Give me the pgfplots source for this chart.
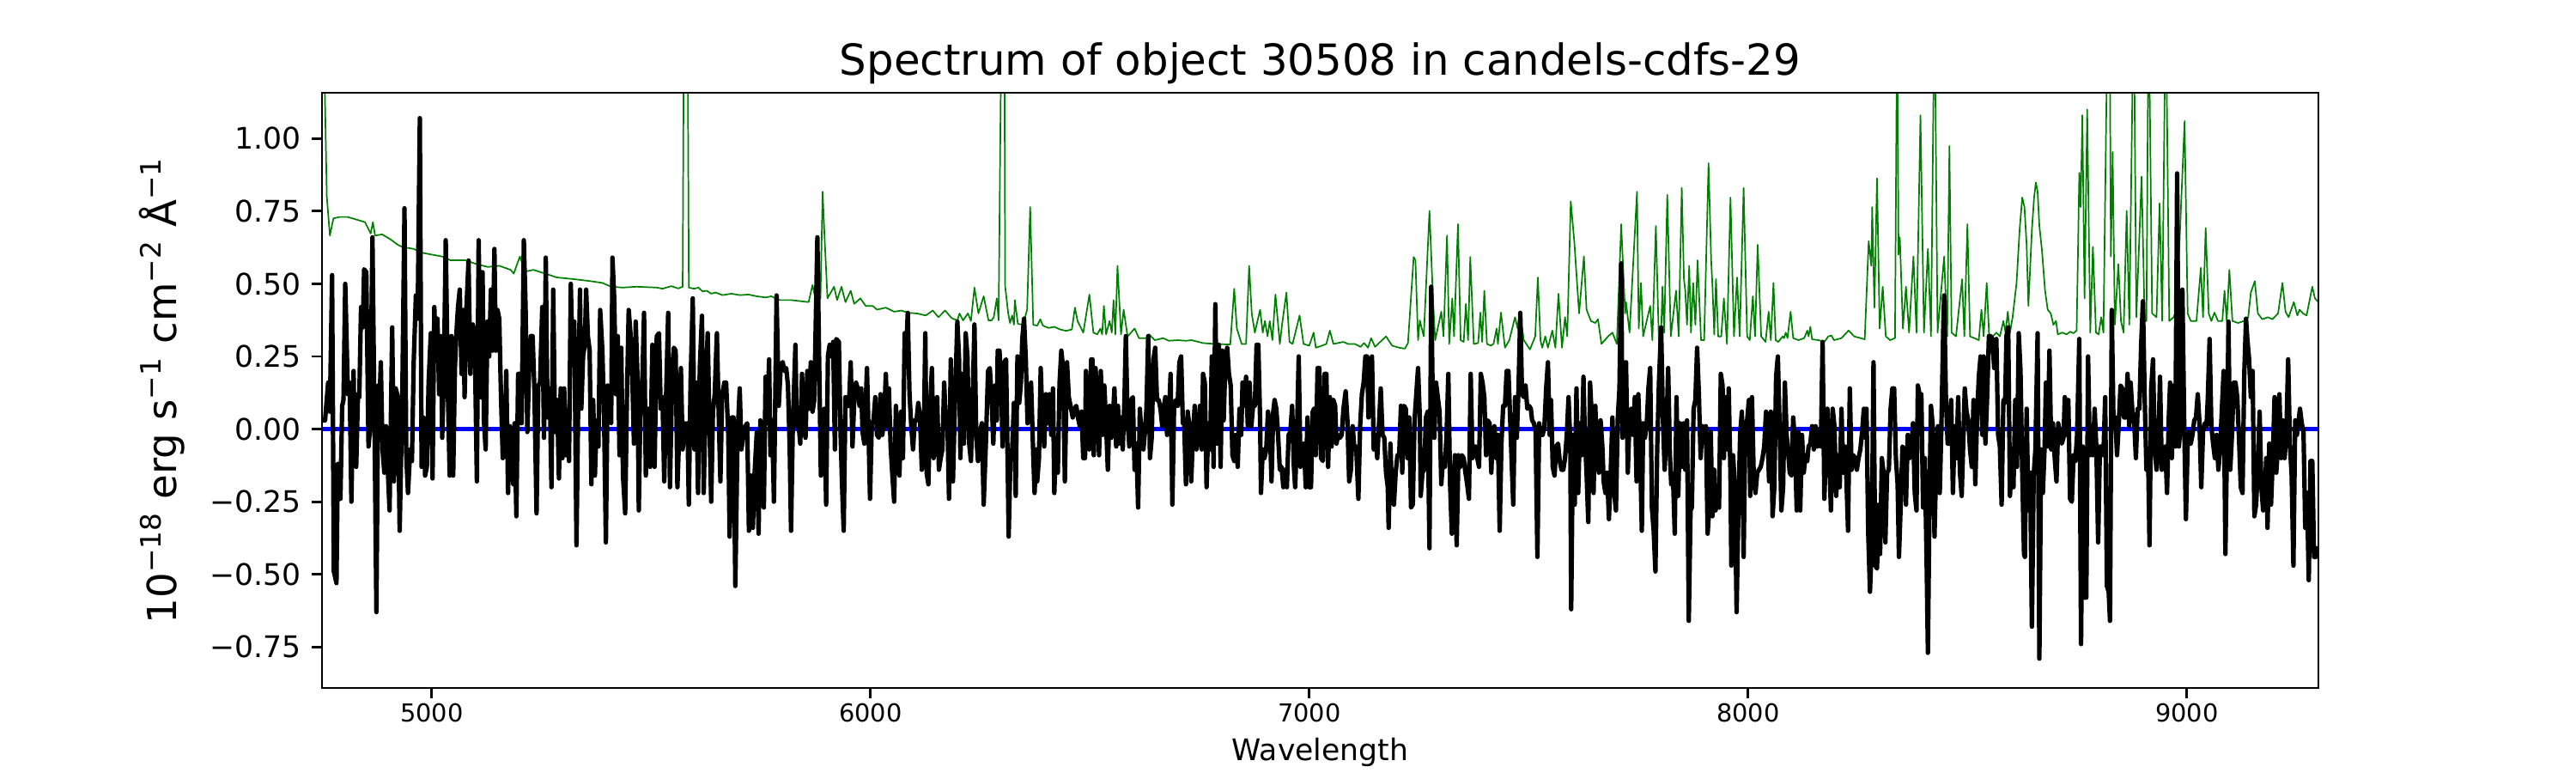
\documentclass[border=0pt]{standalone}
\usepackage{pgfplots}
\pgfplotsset{compat=1.18}
\usepackage{fontspec}
\setmainfont{DejaVu Sans}
\definecolor{mplgreen}{RGB}{0,128,0}
\definecolor{mplblue}{RGB}{0,0,255}
\begin{document}
\begin{tikzpicture}
\path[use as bounding box] (-1.5in,-0.396in) rectangle (10.5in,3.204in);
\begin{axis}[
  at={(0,0)}, anchor=south west,
  scale only axis, width=9.3in, height=2.772in,
  xmin=4750, xmax=9300, ymin=-0.891, ymax=1.1575,
  axis on top,
  axis line style={line width=0.8pt},
  tick align=outside, tick pos=left,
  major tick length=3.5pt,
  every tick/.style={black, line width=0.8pt},
  xtick={5000,6000,7000,8000,9000},
  xticklabels={5000,6000,7000,8000,9000},
  ytick={-0.75,-0.5,-0.25,0,0.25,0.5,0.75,1},
  yticklabels={−0.75,−0.50,−0.25,0.00,0.25,0.50,0.75,1.00},
  xticklabel style={font=\fontsize{8.33}{10}\selectfont, inner sep=1.5pt},
  yticklabel style={font=\fontsize{10}{12}\selectfont},
  title={Spectrum of object 30508 in candels-cdfs-29},
  title style={font=\fontsize{14.4}{17}\selectfont, at={(axis description cs:0.5,1)}, anchor=base},
  xlabel={Wavelength},
  xlabel style={font=\fontsize{10}{12}\selectfont, at={(axis description cs:0.5,-0.108)}, anchor=center},
  ylabel={10\textsuperscript{−18} erg s\textsuperscript{−1} cm\textsuperscript{−2} Å\textsuperscript{−1}},
  ylabel style={font=\fontsize{13.5}{16}\selectfont, at={(axis description cs:-0.0803,0.5)}, anchor=center},
]
% model (zero)
\addplot[mplblue, line width=1.5pt] coordinates {(4750,0) (9300,0)};
% noise spectrum
\addplot[mplgreen, line width=0.5pt, line join=round] coordinates {
(4750,1.5) (4756,1.2) (4761,0.80) (4768,0.666) (4776,0.725) (4790,0.73) (4808,0.73) (4820,0.725) (4848,0.712) (4861,0.673) (4866,0.712) (4871,0.666) (4887,0.67) (4906,0.653) (4923,0.634) (4933,0.627) (4959,0.62) (4978,0.607) (4998,0.601) (5024,0.594) (5043,0.581) (5076,0.581) (5102,0.568) (5128,0.558) (5154,0.562) (5180,0.548) (5187,0.535) (5201,0.594) (5213,0.542) (5232,0.548) (5259,0.535) (5285,0.522) (5324,0.516) (5363,0.509) (5389,0.503) (5409,0.49) (5435,0.487) (5467,0.49)
(5513,0.487) (5526,0.483) (5546,0.492) (5562,0.484) (5572,0.49) (5575,1.5) (5583,1.5) (5586,0.487) (5598,0.483) (5608,0.487) (5617,0.474) (5627,0.476) (5637,0.466) (5647,0.47) (5663,0.461) (5683,0.466) (5702,0.461) (5722,0.463) (5741,0.457) (5761,0.453) (5774,0.457) (5793,0.444) (5819,0.444) (5859,0.437) (5868,0.496) (5875,0.444) (5886,0.45) (5891,0.817) (5895,0.673) (5902,0.45) (5917,0.49) (5924,0.444) (5934,0.49) (5943,0.437) (5955,0.476) (5963,0.431) (5977,0.45) (5989,0.424) (6005,0.424) (6015,0.411) (6035,0.418) (6054,0.404) (6070,0.408) (6087,0.40) (6106,0.398) (6126,0.391) (6142,0.408) (6155,0.385) (6170,0.408) (6185,0.382) (6198,0.374) (6203,0.398) (6211,0.374) (6222,0.398) (6229,0.372) (6237,0.487) (6246,0.398) (6258,0.457) (6269,0.374)
(6276,0.374) (6281,0.385) (6288,0.45) (6292,0.374) (6299,1.5) (6305,1.5) (6307,0.49) (6314,0.398) (6318,0.365) (6323,0.391) (6327,0.359) (6329,0.444) (6336,0.362) (6348,0.359) (6357,0.411) (6364,0.764) (6371,0.359) (6380,0.356) (6387,0.378) (6393,0.356) (6406,0.348) (6419,0.352) (6432,0.343) (6446,0.338) (6459,0.343) (6466,0.418) (6472,0.372) (6485,0.332) (6499,0.463) (6508,0.332) (6517,0.326) (6524,0.346) (6528,0.326) (6532,0.424) (6537,0.326) (6545,0.372) (6550,0.332) (6554,0.444) (6558,0.326) (6563,0.562) (6571,0.326) (6577,0.411) (6586,0.319) (6602,0.346) (6612,0.313) (6628,0.313) (6635,0.326) (6648,0.306) (6667,0.313) (6680,0.304) (6700,0.306) (6719,0.304) (6732,0.306) (6758,0.296) (6785,0.293) (6820,0.291) (6829,0.483) (6835,0.346) (6846,0.293) (6856,0.293) (6863,0.562) (6869,0.398) (6876,0.332) (6888,0.411) (6894,0.332) (6899,0.372) (6905,0.319) (6910,0.372) (6916,0.306) (6923,0.463) (6933,0.293) (6938,0.359) (6948,0.470) (6955,0.300) (6962,0.293) (6978,0.391) (6987,0.293) (7000,0.287) (7010,0.332) (7015,0.280) (7029,0.287)
(7039,0.293) (7047,0.339) (7055,0.293) (7065,0.296) (7078,0.30) (7088,0.293) (7104,0.293) (7117,0.283) (7125,0.296) (7134,0.280) (7141,0.313) (7150,0.283) (7175,0.319) (7189,0.287) (7205,0.280) (7218,0.277) (7225,0.296) (7238,0.592) (7242,0.581) (7248,0.306) (7252,0.374) (7261,0.319) (7274,0.751) (7282,0.45) (7287,0.306) (7301,0.404) (7306,0.319) (7314,0.666) (7319,0.293) (7326,0.45) (7330,0.319) (7339,0.705) (7345,0.306) (7352,0.30) (7357,0.431) (7362,0.306) (7367,0.592) (7375,0.293) (7385,0.296) (7390,0.401) (7394,0.30) (7399,0.476) (7405,0.293) (7414,0.287) (7420,0.293) (7427,0.346) (7430,0.293) (7437,0.401) (7446,0.280) (7456,0.306) (7469,0.385) (7475,0.346) (7480,0.404) (7489,0.306) (7503,0.274) (7515,0.319) (7521,0.522) (7527,0.306) (7531,0.280) (7538,0.319) (7544,0.280) (7554,0.339) (7561,0.280) (7568,0.466) (7576,0.280) (7583,0.385) (7588,0.319) (7596,0.784) (7604,0.647) (7615,0.398) (7626,0.594) (7632,0.411) (7642,0.372) (7652,0.365) (7658,0.378) (7666,0.293) (7681,0.319) (7691,0.332) (7701,0.293) (7711,0.705) (7720,0.398) (7722,0.437) (7730,0.332) (7747,0.817) (7751,0.346) (7756,0.503) (7761,0.319) (7777,0.424) (7782,0.306) (7790,0.699) (7797,0.293)
(7802,0.332) (7805,0.49) (7809,0.332) (7816,0.806) (7824,0.319) (7836,0.476) (7842,0.319) (7849,0.83) (7854,0.516) (7857,0.476) (7861,0.359) (7866,0.562) (7870,0.332) (7875,0.503) (7880,0.359) (7885,0.581) (7893,0.306) (7900,0.306) (7910,0.915) (7916,0.581) (7919,0.490) (7923,0.326) (7927,0.516) (7932,0.319) (7939,0.319) (7945,0.450) (7952,0.293) (7960,0.797) (7968,0.319) (7975,0.522) (7981,0.319) (7990,0.83) (7998,0.319) (8004,0.306) (8011,0.457) (8016,0.319) (8022,0.634) (8030,0.319) (8040,0.300) (8047,0.404) (8052,0.306) (8058,0.503) (8063,0.306) (8069,0.30) (8079,0.319) (8082,0.313) (8086,0.332) (8090,0.313) (8097,0.404) (8103,0.313) (8115,0.306) (8128,0.313) (8135,0.339) (8138,0.319) (8142,0.352) (8146,0.309) (8161,0.306) (8174,0.30) (8183,0.319) (8190,0.322) (8196,0.306) (8213,0.313) (8229,0.339) (8242,0.319) (8266,0.309) (8275,0.647) (8281,0.562) (8283,0.764) (8288,0.418) (8294,0.863) (8300,0.346) (8307,0.49) (8314,0.319) (8324,0.306) (8335,0.313) (8340,1.5) (8343,0.6) (8346,0.66) (8353,0.346) (8360,0.49) (8367,0.332) (8377,0.594) (8384,0.332) (8393,1.08) (8401,0.332) (8410,0.62) (8417,0.319) (8425,1.5) (8432,0.332) (8447,0.594) (8454,0.319) (8459,0.974) (8464,0.332) (8474,0.319) (8488,0.516) (8493,0.319) (8500,0.705) (8506,0.319) (8516,0.313) (8526,0.306) (8532,0.411) (8537,0.319) (8544,0.503) (8550,0.306)
(8566,0.332) (8574,0.319) (8582,0.372) (8587,0.332) (8592,0.404) (8597,0.332) (8603,0.385) (8612,0.503) (8619,0.686) (8625,0.797) (8630,0.764) (8635,0.634) (8639,0.424) (8643,0.555) (8647,0.686) (8652,0.797) (8656,0.849) (8660,0.817) (8664,0.699) (8670,0.614) (8677,0.476) (8683,0.411) (8690,0.398) (8696,0.359) (8702,0.372) (8706,0.326) (8716,0.332) (8726,0.326) (8734,0.335) (8742,0.330) (8749,0.339) (8755,0.882) (8758,0.764) (8762,1.08) (8767,0.45) (8773,1.10) (8780,0.332) (8786,0.627) (8793,0.332) (8799,0.326) (8805,0.385) (8810,0.332) (8820,1.5) (8824,1.5) (8827,0.594) (8831,0.954) (8836,0.359) (8844,0.568) (8850,0.372) (8856,0.332) (8863,0.751) (8869,0.359) (8879,1.5) (8885,0.385) (8897,0.869) (8904,0.372) (8908,0.372) (8913,1.5) (8921,0.398) (8931,0.385) (8938,0.777) (8944,0.372) (8952,1.5) (8960,0.372) (8970,0.385) (8977,0.411) (8995,1.06) (9002,0.398) (9009,0.372) (9022,0.372) (9032,0.555) (9037,0.385) (9043,0.692) (9050,0.398) (9056,0.372) (9063,0.401) (9071,0.372) (9081,0.372) (9086,0.476) (9091,0.372) (9097,0.548) (9104,0.372) (9117,0.365) (9130,0.372) (9140,0.385) (9146,0.470) (9155,0.509) (9162,0.398) (9172,0.378) (9185,0.385) (9195,0.378) (9208,0.398) (9218,0.503) (9225,0.404) (9232,0.385) (9244,0.437) (9252,0.391) (9257,0.411) (9265,0.398) (9273,0.391) (9286,0.49) (9292,0.45) (9300,0.437)
};
% flux
\addplot[black, line width=1.5pt, line join=round] coordinates {
(4750,0.03) (4757,0.03) (4764,0.16) (4768,0.06) (4773,0.53) (4777,-0.49) (4783,-0.53) (4786,-0.12) (4789,-0.12) (4792,-0.24) (4796,0.08) (4799,0.10) (4803,0.50) (4809,0.12) (4813,0.16) (4817,-0.25) (4822,0.20) (4825,-0.10) (4828,-0.13) (4832,0.12) (4835,0.11) (4839,0.42) (4843,0.35) (4846,0.55) (4851,0.54) (4856,-0.06) (4860,0.01) (4865,0.66) (4870,-0.02) (4874,-0.63) (4878,0.15) (4880,0.04) (4884,0.23) (4888,-0.07) (4892,-0.15) (4896,0.01) (4900,-0.14) (4904,-0.28) (4910,0.35) (4914,-0.18) (4918,0.14) (4923,0.11) (4927,-0.35) (4933,0.11) (4938,0.76) (4942,-0.09) (4946,-0.22) (4951,-0.07) (4955,-0.11) (4959,0.23) (4964,0.46) (4968,0.38) (4973,1.07) (4977,-0.13) (4981,0.04) (4985,-0.16) (4989,-0.13) (4993,0.16) (4998,0.33) (5002,-0.17) (5006,0.42) (5009,0.29) (5013,0.38) (5017,0.12) (5021,0.32) (5024,-0.03) (5028,0.21) (5032,0.65) (5037,0.12) (5041,-0.16) (5045,0.32) (5049,-0.16) (5053,0.21) (5056,0.32) (5060,0.42) (5064,0.48) (5068,0.19) (5072,0.41) (5075,0.11) (5079,0.41) (5084,0.58) (5088,0.19) (5090,0.29) (5094,0.36) (5098,0.32) (5103,-0.18) (5107,0.65) (5112,0.11) (5116,0.54) (5119,0.03) (5123,-0.07) (5127,0.37) (5131,0.25) (5135,0.48) (5139,0.27) (5143,0.62) (5146,0.27) (5150,0.41) (5154,0.38) (5158,0.11) (5162,-0.10) (5166,-0.06) (5170,0.20) (5174,-0.22) (5178,0.01) (5182,-0.10) (5186,-0.19) (5189,0.02) (5193,-0.30) (5197,0.19) (5201,0.19) (5205,0.02) (5210,0.65) (5214,0.42) (5218,-0.01) (5222,0.20) (5226,0.32) (5230,0.32) (5234,0.14) (5239,-0.29) (5243,0.15) (5247,0.16) (5252,0.42) (5256,-0.03) (5260,0.59) (5264,0.04) (5269,0.14) (5273,-0.20) (5277,0.48) (5281,-0.01) (5286,0.10) (5290,-0.17) (5294,0.14) (5298,-0.10) (5302,0.14) (5306,-0.09) (5309,0.06) (5313,-0.11) (5317,0.50) (5321,0.25) (5325,0.37) (5330,-0.40) (5334,0.10) (5338,0.48) (5341,0.07) (5345,0.25) (5349,0.29) (5352,0.48) (5356,0.32) (5360,0.27) (5364,-0.19) (5368,0.10) (5372,-0.16) (5376,0.03) (5380,-0.06) (5384,0.41) (5389,0.27) (5393,0.03) (5397,-0.39) (5401,0.15) (5405,0.03) (5409,0.02) (5412,0.59) (5416,0.45) (5420,0.12) (5424,0.32) (5428,-0.09) (5432,0.28) (5436,-0.16) (5441,-0.29) (5445,0.11) (5449,0.41) (5453,0.33) (5457,0.19) (5461,-0.05) (5465,0.37) (5469,0.18) (5472,-0.28) (5476,0.10) (5480,0.16) (5484,0.40) (5488,-0.16) (5493,0.07) (5498,-0.13) (5503,0.29) (5508,-0.13)
(5513,0.32) (5518,0.33) (5522,0.07) (5526,0.11) (5530,-0.18) (5534,0.10) (5539,0.40) (5543,-0.20) (5547,0.10) (5552,0.28) (5556,0.27) (5560,-0.20) (5564,-0.02) (5568,0.21) (5572,-0.07) (5576,0.02) (5580,-0.02) (5583,0.02) (5586,-0.26) (5590,0.16) (5595,0.45) (5599,-0.07) (5603,0.16) (5607,-0.22) (5611,0.21) (5616,0.39) (5620,-0.22) (5625,0.16) (5629,0.33) (5633,0.02) (5637,-0.25) (5641,0.06) (5645,0.12) (5650,0.33) (5654,0.06) (5658,-0.18) (5662,0.12) (5667,0.16) (5671,0.16) (5676,-0.02) (5679,-0.37) (5684,0.04) (5688,0.04) (5692,-0.54) (5697,-0.03) (5702,0.14) (5706,-0.07) (5710,-0.02) (5715,0.01) (5719,0.02) (5723,-0.35) (5728,-0.16) (5732,-0.34) (5736,-0.15) (5741,-0.01) (5745,-0.36) (5749,0.03) (5753,-0.15) (5757,-0.27) (5761,0.18) (5765,0.02) (5769,0.24) (5772,-0.09) (5776,0.03) (5780,-0.25) (5786,0.46) (5791,0.08) (5795,0.20) (5800,0.23) (5804,0.20) (5808,0.21) (5812,0.15) (5816,-0.07) (5819,-0.35) (5823,0.01) (5829,0.29) (5832,0.01) (5836,0.02) (5840,-0.05) (5844,0.19) (5848,0.01) (5852,-0.03) (5856,0.20) (5860,0.07) (5864,0.23) (5868,0.06) (5872,0.10) (5876,0.42) (5879,0.66) (5883,0.24) (5887,-0.16) (5891,-0.02) (5895,0.07) (5899,-0.26) (5903,0.25) (5907,0.29) (5911,0.25) (5915,0.30) (5919,-0.07) (5922,0.31) (5928,0.30) (5932,-0.02) (5935,-0.18) (5939,-0.35) (5943,0.11) (5947,0.08) (5951,0.08) (5955,0.23) (5959,-0.06) (5963,0.10) (5967,0.16) (5971,0.14) (5975,0.08) (5979,0.14) (5982,-0.01) (5986,-0.05) (5992,0.21) (5995,0.03) (5999,-0.24) (6003,0.02) (6007,0.03) (6011,0.11) (6015,-0.02) (6019,-0.03) (6023,0.12) (6027,-0.02) (6031,0.03) (6035,0.19) (6039,0.01) (6042,0.14) (6046,-0.06) (6050,-0.16) (6054,-0.25) (6058,0.08) (6062,-0.02) (6066,-0.16) (6070,0.06) (6074,-0.10) (6078,0.33) (6082,0.29) (6085,0.40) (6089,0.12) (6093,0.01) (6097,-0.07) (6101,0.03) (6105,0.03) (6109,0.09) (6113,0.04) (6117,-0.14) (6121,-0.09) (6125,0.33) (6128,-0.15) (6132,-0.19) (6136,0.08) (6140,0.21) (6144,-0.10) (6148,0.02) (6152,0.11) (6156,-0.14) (6160,-0.10) (6164,-0.07) (6168,0.16) (6172,0.01) (6175,0.06) (6179,-0.24) (6183,0.24) (6188,-0.18) (6192,0.06) (6198,0.37) (6202,0.24) (6205,-0.10) (6209,0.19) (6213,-0.05) (6217,0.33) (6221,0.25) (6225,-0.05) (6229,-0.11) (6233,0.11) (6237,0.36) (6241,-0.02) (6245,-0.11) (6248,-0.02) (6254,0.02) (6258,-0.26) (6263,-0.05) (6268,0.20) (6272,0.21)
(6276,0.11) (6280,-0.05) (6284,0.15) (6288,0.03) (6290,0.27) (6294,0.27) (6298,0.16) (6301,-0.06) (6305,0.23) (6309,0.24) (6313,-0.15) (6315,-0.37) (6319,-0.10) (6323,-0.07) (6327,0.09) (6331,-0.23) (6335,0.25) (6339,0.09) (6343,0.16) (6346,0.31) (6350,0.38) (6354,0.24) (6358,0.02) (6362,0.06) (6366,0.16) (6371,-0.09) (6374,-0.22) (6378,-0.07) (6380,-0.18) (6384,-0.10) (6388,0.21) (6392,0.03) (6396,-0.06) (6400,0.12) (6404,0.02) (6408,0.12) (6412,-0.02) (6416,0.14) (6419,-0.22) (6423,-0.03) (6427,-0.15) (6431,0.16) (6435,0.27) (6439,0.21) (6443,-0.18) (6448,0.23) (6452,0.11) (6456,0.08) (6461,0.04) (6465,0.07) (6469,0.08) (6473,0.04) (6477,0.01) (6481,0.06) (6485,-0.10) (6489,-0.10) (6491,0.20) (6495,0.11) (6499,-0.07) (6503,0.24) (6506,0.24) (6509,-0.09) (6513,0.21) (6517,0.11) (6521,-0.09) (6525,0.20) (6529,-0.02) (6533,0.15) (6537,0.02) (6541,-0.14) (6545,0.08) (6549,-0.03) (6552,0.02) (6556,0.14) (6560,-0.06) (6564,0.08) (6568,-0.05) (6571,0.04) (6575,-0.07) (6579,0.11) (6582,0.32) (6586,0.03) (6590,-0.06) (6594,0.10) (6598,0.11) (6602,-0.14) (6606,-0.05) (6610,-0.27) (6614,0.07) (6618,-0.03) (6622,-0.07) (6625,-0.02) (6629,0.07) (6633,0.32) (6637,-0.10) (6641,-0.03) (6645,0.24) (6649,0.28) (6653,0.10) (6657,0.10) (6661,0.07) (6665,0.01) (6669,0.08) (6672,0.11) (6676,-0.02) (6680,0.03) (6684,0.19) (6688,-0.26) (6692,0.08) (6696,0.10) (6700,0.08) (6704,0.23) (6708,0.25) (6712,0.02) (6715,0.02) (6719,-0.19) (6723,0.06) (6727,0.01) (6731,-0.18) (6735,-0.02) (6739,0.08) (6743,-0.07) (6747,-0.03) (6751,0.08) (6755,-0.07) (6758,0.19) (6762,0.16) (6766,-0.20) (6770,0.02) (6774,-0.07) (6778,0.25) (6782,-0.13) (6786,0.43) (6790,-0.05) (6794,0.29) (6798,-0.13) (6802,0.27) (6805,0.03) (6809,0.24) (6813,0.28) (6817,0.19) (6821,0.15) (6825,-0.09) (6829,-0.11) (6833,-0.02) (6837,-0.13) (6841,0.07) (6845,-0.02) (6848,0.16) (6852,0.08) (6856,0.18) (6860,0.01) (6864,0.16) (6868,0.01) (6872,0.08) (6876,0.08) (6880,0.29) (6884,0.29) (6888,0.03) (6890,-0.22) (6894,-0.07) (6898,-0.10) (6902,-0.07) (6906,0.06) (6910,0.02) (6914,-0.18) (6918,0.06) (6921,0.10) (6925,0.07) (6929,-0.02) (6933,-0.14) (6937,-0.13) (6941,-0.20) (6945,-0.14) (6949,-0.20) (6953,-0.02) (6957,-0.01) (6961,0.08) (6965,-0.13) (6968,-0.20) (6972,-0.02) (6976,0.25) (6980,-0.13) (6984,-0.07) (6988,-0.05) (6992,-0.20) (6996,0.04) (7000,-0.20) (7004,-0.20) (7008,0.06) (7011,0.07) (7015,-0.09) (7019,0.21) (7023,0.21) (7027,-0.10) (7031,-0.11) (7035,0.19)
(7039,0.19) (7043,-0.13) (7047,0.11) (7051,-0.06) (7055,0.10) (7059,0.08) (7062,-0.05) (7066,-0.02) (7070,-0.03) (7074,-0.02) (7078,0.07) (7083,0.13) (7087,0.03) (7091,-0.18) (7095,-0.14) (7099,0.01) (7103,-0.07) (7107,-0.06) (7112,-0.24) (7116,0.01) (7120,0.12) (7124,0.16) (7128,0.25) (7132,0.25) (7135,0.04) (7139,0.15) (7143,0.25) (7147,-0.07) (7151,-0.02) (7155,-0.10) (7159,0.02) (7163,0.14) (7167,-0.02) (7171,-0.03) (7175,-0.15) (7179,-0.20) (7181,-0.34) (7185,-0.05) (7189,-0.24) (7193,-0.26) (7197,-0.15) (7201,-0.09) (7205,-0.09) (7209,0.08) (7212,-0.15) (7216,0.08) (7220,0.07) (7224,-0.10) (7228,0.04) (7232,-0.27) (7236,-0.26) (7240,0.03) (7244,0.12) (7248,0.21) (7252,0.04) (7254,-0.23) (7258,-0.15) (7262,-0.14) (7266,0.04) (7270,0.06) (7274,-0.41) (7278,0.49) (7282,0.04) (7285,-0.03) (7289,0.16) (7293,0.11) (7297,0.06) (7301,-0.19) (7305,-0.10) (7309,-0.13) (7313,-0.02) (7317,0.19) (7321,-0.19) (7325,-0.36) (7328,-0.22) (7332,-0.09) (7336,-0.40) (7340,-0.09) (7344,-0.13) (7348,-0.09) (7352,-0.10) (7356,-0.15) (7360,-0.19) (7364,-0.24) (7368,0.19) (7372,-0.10) (7375,-0.06) (7379,-0.06) (7383,-0.10) (7387,-0.13) (7391,0.19) (7395,0.16) (7399,0.11) (7403,-0.09) (7407,0.03) (7411,0.02) (7415,-0.15) (7418,-0.02) (7422,0.01) (7426,-0.10) (7430,-0.02) (7434,-0.35) (7438,-0.05) (7442,0.08) (7446,0.08) (7450,0.20) (7454,0.20) (7458,0.03) (7461,-0.10) (7465,-0.26) (7469,0.11) (7473,-0.03) (7477,0.14) (7481,0.40) (7485,0.12) (7489,0.11) (7493,0.15) (7497,0.07) (7501,0.08) (7505,0.07) (7508,0.03) (7512,0.02) (7516,-0.01) (7520,-0.44) (7524,0.02) (7528,-0.02) (7532,-0.02) (7536,0.01) (7540,0.14) (7544,0.23) (7548,-0.02) (7551,0.10) (7555,-0.13) (7559,-0.16) (7563,-0.06) (7567,-0.05) (7571,-0.11) (7575,-0.14) (7579,-0.14) (7583,-0.10) (7587,-0.02) (7591,0.11) (7595,-0.05) (7597,-0.62) (7601,-0.02) (7605,-0.26) (7609,0.14) (7613,-0.22) (7617,0.02) (7621,-0.09) (7625,0.18) (7628,-0.02) (7632,-0.15) (7636,-0.32) (7640,0.16) (7644,0.04) (7648,-0.22) (7652,0.08) (7656,-0.09) (7660,-0.15) (7664,0.03) (7668,-0.06) (7671,-0.18) (7675,-0.22) (7679,-0.15) (7683,-0.31) (7687,-0.15) (7691,0.04) (7695,-0.22) (7699,-0.28) (7703,0.03) (7707,0.14) (7711,0.57) (7714,-0.03) (7718,0.08) (7722,0.23) (7726,-0.15) (7730,0.04) (7734,0.07) (7738,-0.02) (7742,0.11) (7746,-0.18) (7750,0.12) (7754,-0.07) (7758,-0.35) (7761,0.02) (7765,-0.03) (7769,0.01) (7773,0.14) (7777,0.21) (7781,-0.27) (7785,-0.35) (7789,-0.49) (7793,-0.07) (7797,0.16)
(7802,0.35) (7806,0.04) (7810,-0.14) (7814,-0.01) (7818,0.21) (7822,-0.09) (7825,-0.19) (7829,-0.16) (7833,-0.36) (7837,0.11) (7841,-0.23) (7845,0.02) (7849,-0.13) (7853,0.02) (7857,-0.14) (7861,0.03) (7865,-0.66) (7869,-0.28) (7872,-0.27) (7876,0.07) (7880,0.10) (7884,0.28) (7888,0.12) (7892,-0.10) (7896,0.01) (7900,-0.01) (7904,0.01) (7908,-0.36) (7912,-0.26) (7915,-0.01) (7919,-0.30) (7923,-0.14) (7926,-0.28) (7930,-0.24) (7934,-0.27) (7938,0.19) (7942,0.15) (7945,-0.10) (7949,0.11) (7953,-0.07) (7956,0.14) (7960,-0.16) (7962,-0.47) (7966,-0.09) (7970,-0.20) (7974,-0.63) (7978,-0.28) (7982,-0.02) (7986,0.06) (7990,-0.44) (7994,0.02) (7998,0.03) (8002,0.10) (8005,-0.23) (8009,0.11) (8013,-0.16) (8017,-0.22) (8021,-0.15) (8025,-0.14) (8029,-0.13) (8033,-0.10) (8037,-0.06) (8041,0.06) (8045,-0.05) (8048,-0.18) (8052,0.06) (8056,-0.30) (8060,-0.20) (8064,0.18) (8068,0.25) (8072,0.01) (8076,-0.28) (8080,-0.20) (8084,0.16) (8088,-0.02) (8091,-0.07) (8095,-0.15) (8099,-0.16) (8103,0.04) (8107,-0.05) (8111,-0.28) (8115,-0.01) (8119,-0.28) (8123,-0.02) (8127,-0.15) (8131,-0.09) (8135,-0.11) (8138,-0.06) (8142,-0.05) (8146,0.01) (8150,-0.07) (8154,0.01) (8158,-0.06) (8162,-0.01) (8166,-0.06) (8170,0.30) (8174,-0.24) (8178,-0.05) (8181,0.07) (8185,-0.09) (8189,-0.28) (8193,0.07) (8197,0.01) (8201,-0.23) (8205,-0.09) (8209,-0.20) (8213,0.07) (8217,-0.15) (8221,-0.06) (8224,-0.16) (8228,-0.35) (8232,0.14) (8236,-0.14) (8240,-0.09) (8244,-0.10) (8248,-0.14) (8252,-0.10) (8256,-0.07) (8260,-0.01) (8264,0.07) (8268,-0.03) (8270,0.07) (8274,-0.36) (8278,-0.56) (8282,-0.39) (8286,0.23) (8290,-0.47) (8294,-0.48) (8298,-0.26) (8301,-0.43) (8305,-0.10) (8309,-0.15) (8313,-0.39) (8317,-0.15) (8321,-0.14) (8325,0.07) (8329,0.14) (8333,0.14) (8337,-0.10) (8341,-0.19) (8344,-0.44) (8348,-0.26) (8352,-0.06) (8356,-0.07) (8360,-0.26) (8364,-0.02) (8368,-0.10) (8372,-0.07) (8376,0.02) (8380,-0.22) (8384,-0.28) (8387,0.15) (8391,0.12) (8395,0.12) (8399,-0.27) (8403,-0.10) (8407,-0.45) (8410,-0.77) (8414,-0.19) (8417,0.08) (8421,0.01) (8425,-0.37) (8429,-0.11) (8433,0.01) (8437,-0.22) (8441,0.03) (8445,0.35) (8447,0.46) (8451,0.11) (8455,-0.05) (8459,-0.05) (8463,0.10) (8467,-0.22) (8471,0.01) (8475,-0.10) (8479,0.11) (8483,-0.15) (8487,-0.23) (8491,-0.02) (8494,0.14) (8498,0.06) (8502,0.03) (8506,-0.07) (8510,-0.13) (8514,0.10) (8518,-0.19) (8522,0.04) (8526,0.18) (8530,0.25) (8534,-0.02) (8537,0.25) (8541,-0.05) (8545,0.11) (8549,0.32) (8553,0.32) (8557,0.31) (8561,0.21)
(8566,0.31) (8570,-0.02) (8574,-0.06) (8578,-0.26) (8582,0.10) (8586,0.09) (8589,0.32) (8593,0.35) (8597,-0.23) (8601,-0.11) (8605,-0.20) (8609,0.10) (8613,-0.13) (8617,0.33) (8621,0.20) (8625,-0.15) (8629,-0.43) (8631,-0.44) (8635,0.07) (8639,-0.28) (8643,-0.15) (8647,-0.68) (8651,-0.16) (8655,-0.07) (8660,0.33) (8664,-0.79) (8668,-0.07) (8672,-0.22) (8676,-0.06) (8679,0.16) (8683,-0.06) (8687,0.27) (8691,-0.07) (8695,0.02) (8699,-0.10) (8703,-0.18) (8707,0.02) (8711,-0.02) (8715,-0.05) (8719,-0.03) (8722,0.11) (8726,-0.02) (8730,0.10) (8734,-0.24) (8738,-0.25) (8742,-0.09) (8746,-0.11) (8750,-0.02) (8755,0.31) (8759,-0.74) (8763,-0.06) (8767,-0.58) (8771,-0.58) (8775,0.25) (8779,-0.09) (8782,-0.06) (8786,-0.09) (8790,0.07) (8794,-0.07) (8798,-0.39) (8802,-0.06) (8806,-0.06) (8810,-0.09) (8814,0.11) (8818,-0.54) (8822,-0.56) (8825,-0.66) (8829,0.41) (8833,0.02) (8837,0.04) (8841,-0.09) (8845,0.02) (8849,0.15) (8853,0.14) (8857,0.04) (8861,0.04) (8865,0.19) (8869,0.01) (8872,0.16) (8876,0.06) (8880,0.03) (8884,-0.10) (8888,0.07) (8892,0.07) (8896,0.29) (8900,0.44) (8904,0.11) (8908,-0.14) (8912,-0.10) (8915,-0.40) (8919,0.14) (8923,0.24) (8927,-0.07) (8931,-0.14) (8935,-0.06) (8939,0.18) (8943,-0.14) (8947,-0.09) (8951,-0.06) (8955,-0.22) (8959,0.04) (8962,0.16) (8966,-0.10) (8970,0.15) (8974,-0.06) (8978,0.88) (8982,-0.06) (8986,0.02) (8990,0.48) (8994,0.03) (8998,-0.31) (9002,-0.05) (9005,-0.01) (9009,-0.05) (9013,-0.02) (9017,0.03) (9021,0.04) (9025,0.12) (9029,0.02) (9033,-0.20) (9037,-0.01) (9041,0.02) (9045,0.01) (9048,0.11) (9052,0.31) (9056,0.01) (9060,-0.05) (9064,-0.10) (9068,-0.02) (9072,-0.14) (9076,-0.07) (9080,0.07) (9084,0.20) (9088,-0.43) (9092,-0.01) (9095,0.37) (9099,-0.14) (9103,-0.02) (9107,0.16) (9111,0.16) (9115,0.11) (9119,-0.03) (9123,-0.20) (9127,-0.22) (9131,0.19) (9135,0.38) (9138,0.31) (9142,0.24) (9146,0.11) (9150,0.20) (9154,-0.30) (9158,-0.26) (9162,-0.13) (9166,0.06) (9170,-0.20) (9174,-0.28) (9178,-0.23) (9181,-0.10) (9184,-0.34) (9188,-0.05) (9192,-0.26) (9196,-0.10) (9200,0.11) (9204,-0.15) (9208,-0.05) (9211,0.12) (9215,-0.10) (9219,0.03) (9223,-0.10) (9227,-0.01) (9231,0.24) (9235,-0.05) (9239,-0.16) (9243,-0.47) (9247,0.03) (9251,-0.02) (9255,0.03) (9258,0.07) (9262,0.02) (9266,-0.01) (9270,-0.34) (9274,-0.22) (9278,-0.52) (9282,-0.11) (9286,-0.11) (9290,-0.44) (9294,-0.44) (9298,-0.41) (9300,-0.41)
};
\end{axis}
\end{tikzpicture}
\end{document}
